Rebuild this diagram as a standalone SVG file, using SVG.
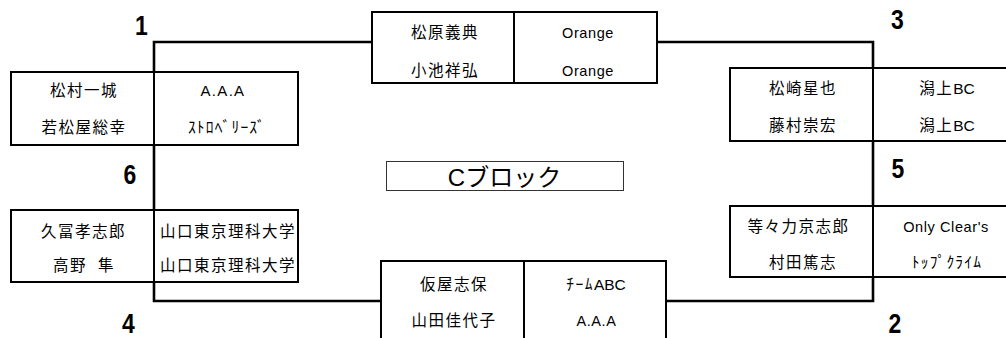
<svg xmlns="http://www.w3.org/2000/svg" width="1006" height="338" viewBox="0 0 1006 338">
<style>
.box{fill:#fff;stroke:#000;stroke-width:2}
.div{stroke:#000;stroke-width:2}
.con{fill:none;stroke:#000;stroke-width:2.6;stroke-linejoin:miter}
text{font-family:"Liberation Sans","Noto Sans CJK JP",sans-serif;fill:#000;text-anchor:middle}
.j{font-size:15.5px;letter-spacing:1.5px}
.l{font-size:14.5px;letter-spacing:0.6px}
.k{font-size:15.5px;letter-spacing:1.2px}
.z{letter-spacing:0}
.n{font-family:"Liberation Sans",sans-serif;font-weight:bold;font-size:28px}
.t{font-size:24px}
</style>
<rect width="1006" height="338" fill="#fff"/>
<g id="connectors">
<polyline class="con" points="372,42 154,42 154,72"/>
<polyline class="con" points="657,42 873,42 873,68"/>
<line class="con" x1="154" y1="145" x2="154" y2="210"/>
<line class="con" x1="873" y1="141" x2="873" y2="206"/>
<polyline class="con" points="154,282 154,301 381,301"/>
<polyline class="con" points="666,301 873,301 873,277"/>
</g>
<g id="title">
<rect x="386.5" y="161.5" width="237" height="29" fill="#fff" stroke="#333" stroke-width="1"/>
<text class="t" x="504.5" y="186">Cブロック</text>
</g>
<g id="pair-top">
<rect class="box" x="372" y="12" width="285" height="71"/>
<line class="div" x1="514" y1="12" x2="514" y2="83"/>
<text class="j" x="445" y="37.5">松原義典</text>
<text class="j" x="445" y="75.5">小池祥弘</text>
<text class="l" x="588" y="37.5">Orange</text>
<text class="l" x="588" y="75.5">Orange</text>
</g>
<g id="pair-1">
<rect class="box" x="11" y="72" width="287" height="73"/>
<line class="div" x1="154" y1="72" x2="154" y2="145"/>
<text class="j" x="84" y="96">松村一城</text>
<text class="j" x="84" y="133">若松屋総幸</text>
<text class="l" x="223" y="96" style="font-size:15px;letter-spacing:1.3px">A.A.A</text>
<text class="k" x="227" y="133">ｽﾄﾛﾍﾞﾘｰｽﾞ</text>
</g>
<g id="pair-3">
<rect class="box" x="730" y="68" width="290" height="73"/>
<line class="div" x1="873" y1="68" x2="873" y2="141"/>
<text class="j" x="803" y="94">松崎星也</text>
<text class="j" x="803" y="130.5">藤村崇宏</text>
<text class="j" x="947" y="94">潟上<tspan class="z">BC</tspan></text>
<text class="j" x="947" y="130.5">潟上<tspan class="z">BC</tspan></text>
</g>
<g id="pair-6">
<rect class="box" x="11" y="210" width="287" height="72"/>
<line class="div" x1="154" y1="210" x2="154" y2="282"/>
<text class="j" x="83.5" y="237">久冨孝志郎</text>
<text class="j" x="84" y="270.5" word-spacing="5">高野 隼</text>
<text class="j" x="228" y="237">山口東京理科大学</text>
<text class="j" x="228" y="270.5">山口東京理科大学</text>
</g>
<g id="pair-5">
<rect class="box" x="730" y="206" width="290" height="71"/>
<line class="div" x1="873" y1="206" x2="873" y2="277"/>
<text class="j" x="798.5" y="231.5">等々力京志郎</text>
<text class="j" x="803" y="268">村田篤志</text>
<text class="l" x="946" y="231.5">Only Clear's</text>
<text class="k" x="947" y="268">ﾄｯﾌﾟｸﾗｲﾑ</text>
</g>
<g id="pair-bottom">
<rect class="box" x="381" y="261" width="285" height="95"/>
<line class="div" x1="524" y1="261" x2="524" y2="356"/>
<text class="j" x="454" y="289.5">仮屋志保</text>
<text class="j" x="454" y="325.5">山田佳代子</text>
<text class="j" x="596" y="289.5">ﾁｰﾑ<tspan class="z">ABC</tspan></text>
<text class="l" x="596.5" y="325.5">A.A.A</text>
</g>
<g id="seeds">
<text class="n" transform="translate(141.5 35) scale(0.82 1)">1</text>
<text class="n" transform="translate(897.5 29) scale(0.82 1)">3</text>
<text class="n" transform="translate(130 184) scale(0.82 1)">6</text>
<text class="n" transform="translate(898 178) scale(0.82 1)">5</text>
<text class="n" transform="translate(128.5 333) scale(0.82 1)">4</text>
<text class="n" transform="translate(895 333) scale(0.82 1)">2</text>
</g>
</svg>
